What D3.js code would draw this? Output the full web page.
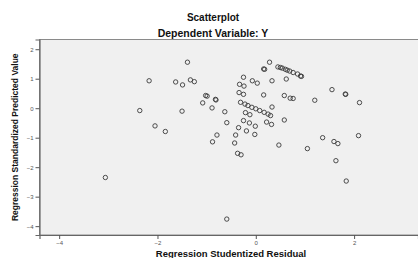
<!DOCTYPE html>
<html>
<head>
<meta charset="utf-8">
<script src="https://cdn.jsdelivr.net/npm/d3@7"></script>
<style>
  body { margin: 0; background: #fff; }
  text { font-family: "Liberation Sans", Arial, sans-serif; }
</style>
</head>
<body>
<div id="chart"></div>
<script>
// studentized residual (x) and standardized predicted value (y)
const residuals = [
  -1.39, -2.17, -1.63, -1.49, -1.33, -1.25, -1.02, -0.99, -0.82, -0.81,
  -1.08, -0.89, -0.63, -2.36, -1.50, -2.05, -1.84, -0.59, -0.79, -0.88,
  -0.43, -0.41, -0.35, -0.25, -0.13, -0.19, -0.01, -0.02, 0.22, 0.32,
  0.47, -0.21, -0.12, -0.31, -0.22, -0.16, -0.08, 0.00, 0.08, 0.17,
  0.25, 0.30, -0.34, -0.25, -0.33, -0.24, -0.25, -0.07, 0.03, 0.16,
  0.33, 0.33, 0.16, 0.18, 0.28, 0.45, 0.50, 0.54, 0.60, 0.64,
  0.69, 0.76, 0.85, 0.91, 0.93, 0.62, 0.58, 0.70, 0.76, 1.20,
  0.58, 1.55, 1.82, 1.83, 2.11, 1.36, 1.59, 1.67, 2.09, 1.05,
  1.63, 1.84, -0.37, -0.30, -0.59, -3.06
];
const predicted = [
  1.56, 0.93, 0.89, 0.79, 0.96, 0.90, 0.43, 0.41, 0.30, 0.28,
  0.18, 0.01, -0.12, -0.08, -0.10, -0.60, -0.79, -0.49, -0.91, -1.14,
  -1.18, -0.91, -0.66, -0.42, -0.50, -0.77, -0.61, -0.89, -0.47, -0.55,
  -1.25, -0.15, -0.22, 0.20, 0.14, 0.09, 0.03, -0.02, -0.08, -0.14,
  -0.20, -0.25, 0.53, 0.47, 0.81, 0.75, 1.05, 0.93, 0.85, 0.45,
  0.93, 0.04, 1.33, 1.32, 1.56, 1.40, 1.38, 1.36, 1.32, 1.29,
  1.26, 1.21, 1.16, 1.09, 1.08, 0.99, 0.43, 0.34, 0.33, 0.27,
  -0.40, 0.63, 0.48, 0.47, 0.19, -1.00, -1.13, -1.20, -0.93, -1.37,
  -1.78, -2.47, -1.53, -1.58, -3.76, -2.35
];
const xTicks = [-4, -2, 0, 2];
const yTicks = [-4, -3, -2, -1, 0, 1, 2];

const width = 418, height = 258;
const plotLeft = 39.5, plotTop = 39.5, plotBottom = 235, plotRight = 418;

const svg = d3.select("#chart").append("svg")
  .attr("width", width).attr("height", height);

const x = d3.scaleLinear().domain([-4.4, 3.3]).range([plotLeft, plotRight]);
const y = d3.scaleLinear().domain([-4.3, 2.33]).range([plotBottom, plotTop]);

// plot background
svg.append("rect")
  .attr("x", plotLeft).attr("y", plotTop)
  .attr("width", plotRight - plotLeft + 5).attr("height", plotBottom - plotTop)
  .attr("fill", "#f0f0f0")
  .attr("stroke", "#8a8a8a").attr("stroke-width", 1);

// axes
const fmt = d3.format("d");
const xAxis = svg.append("g")
  .attr("transform", `translate(0,${plotBottom})`)
  .call(d3.axisBottom(x).tickValues(xTicks).tickFormat(fmt).tickSize(4).tickPadding(2));
const yAxis = svg.append("g")
  .attr("transform", `translate(${plotLeft},0)`)
  .call(d3.axisLeft(y).tickValues(yTicks).tickFormat(fmt).tickSize(4).tickPadding(2));

[xAxis, yAxis].forEach(g => {
  g.select(".domain").attr("stroke", "#666").attr("stroke-width", 1.2);
  g.selectAll(".tick line").attr("stroke", "#555");
  g.selectAll(".tick text").attr("fill", "#555")
    .style("font-size", "6px");
});

// points
svg.append("g").selectAll("circle")
  .data(residuals.map((r, i) => [r, predicted[i]]))
  .join("circle")
  .attr("cx", d => x(d[0]))
  .attr("cy", d => y(d[1]))
  .attr("r", 2.2)
  .attr("fill", "none")
  .attr("stroke", "#3a3a3a")
  .attr("stroke-width", 0.9);

// titles
svg.append("text")
  .attr("x", 213).attr("y", 20.5)
  .attr("text-anchor", "middle")
  .style("font-size", "10px").style("font-weight", "bold")
  .attr("fill", "#111")
  .text("Scatterplot");
svg.append("text")
  .attr("x", 213).attr("y", 36.5)
  .attr("text-anchor", "middle")
  .style("font-size", "10.5px").style("font-weight", "bold")
  .attr("fill", "#111")
  .text("Dependent Variable: Y");

svg.append("text")
  .attr("x", 231).attr("y", 256.5)
  .attr("text-anchor", "middle")
  .style("font-size", "9.5px").style("font-weight", "bold")
  .attr("fill", "#111")
  .text("Regression Studentized Residual");

svg.append("text")
  .attr("transform", `translate(18,${(plotTop + plotBottom) / 2}) rotate(-90)`)
  .attr("text-anchor", "middle")
  .style("font-size", "8.5px").style("font-weight", "bold")
  .attr("fill", "#111")
  .text("Regression Standardized Predicted Value");
</script>
</body>
</html>
